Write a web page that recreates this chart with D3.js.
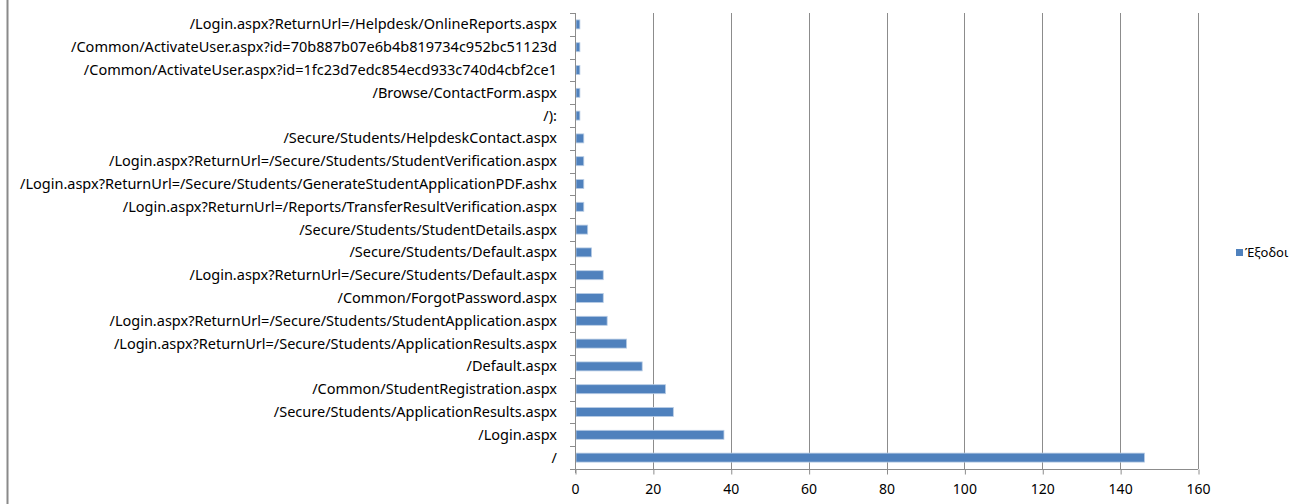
<!DOCTYPE html>
<html>
<head>
<meta charset="utf-8">
<script src="https://cdn.jsdelivr.net/npm/d3@7/dist/d3.min.js"></script>
<style>
  html, body { margin: 0; padding: 0; background: #fff; }
  svg { display: block; }
  text { font-family: "Noto Sans", "Liberation Sans", Arial, sans-serif; }
</style>
</head>
<body>
<svg id="chart" width="1290" height="504"></svg>
<script>
const categories = [
  "/Login.aspx?ReturnUrl=/Helpdesk/OnlineReports.aspx",
  "/Common/ActivateUser.aspx?id=70b887b07e6b4b819734c952bc51123d",
  "/Common/ActivateUser.aspx?id=1fc23d7edc854ecd933c740d4cbf2ce1",
  "/Browse/ContactForm.aspx",
  "/):",
  "/Secure/Students/HelpdeskContact.aspx",
  "/Login.aspx?ReturnUrl=/Secure/Students/StudentVerification.aspx",
  "/Login.aspx?ReturnUrl=/Secure/Students/GenerateStudentApplicationPDF.ashx",
  "/Login.aspx?ReturnUrl=/Reports/TransferResultVerification.aspx",
  "/Secure/Students/StudentDetails.aspx",
  "/Secure/Students/Default.aspx",
  "/Login.aspx?ReturnUrl=/Secure/Students/Default.aspx",
  "/Common/ForgotPassword.aspx",
  "/Login.aspx?ReturnUrl=/Secure/Students/StudentApplication.aspx",
  "/Login.aspx?ReturnUrl=/Secure/Students/ApplicationResults.aspx",
  "/Default.aspx",
  "/Common/StudentRegistration.aspx",
  "/Secure/Students/ApplicationResults.aspx",
  "/Login.aspx",
  "/"
];
const values = [1, 1, 1, 1, 1, 2, 2, 2, 2, 3, 4, 7, 7, 8, 13, 17, 23, 25, 38, 146];
const xTicks = [0, 20, 40, 60, 80, 100, 120, 140, 160];
const seriesName = "Έξοδοι";

const svg = d3.select("#chart");
const mLeft = 575, mRight = 1198, mTop = 13, mBottom = 469;
const gridColor = "#8c8c8c";

// outer frame left border
svg.append("line").attr("x1", 7.5).attr("x2", 7.5).attr("y1", 0).attr("y2", 504)
  .attr("stroke", "#8a8a8a").attr("stroke-width", 2);

const x = d3.scaleLinear().domain([0, 160]).range([mLeft, mRight]);
const yb = d3.scaleBand().domain(categories).range([mTop, mBottom]);

// gridlines
svg.append("g").selectAll("line").data(xTicks.slice(1)).join("line")
  .attr("x1", d => Math.round(x(d)) + 0.5).attr("x2", d => Math.round(x(d)) + 0.5)
  .attr("y1", mTop).attr("y2", mBottom)
  .attr("stroke", gridColor).attr("stroke-width", 1);

// bars
svg.append("g").selectAll("rect").data(categories).join("rect")
  .attr("x", x(0) + 1)
  .attr("y", (d) => yb(d) + yb.bandwidth() / 2 - 4.5)
  .attr("width", (d, i) => Math.max(0, x(values[i]) - x(0)))
  .attr("height", 9)
  .attr("fill", "#4f81bd")
  .attr("stroke", "#b9cde5")
  .attr("stroke-width", 0.8);

// x axis
const xAxis = d3.axisBottom(x).tickValues(xTicks).tickSize(5).tickPadding(10).tickFormat(d3.format("d"));
const gx = svg.append("g").attr("transform", `translate(0,${mBottom + 0.5})`).call(xAxis);
gx.select(".domain").attr("stroke", gridColor).attr("d", `M${mLeft},0H${mRight}`);
gx.selectAll(".tick line").attr("stroke", gridColor).attr("transform", "translate(0.5,0)");
gx.selectAll(".tick text").attr("fill", "#000").attr("font-size", 14)
  .attr("font-family", "Noto Sans, Liberation Sans, Arial, sans-serif");

// y axis: line + ticks at band boundaries
svg.append("line").attr("x1", mLeft + 0.5).attr("x2", mLeft + 0.5).attr("y1", mTop).attr("y2", mBottom + 4)
  .attr("stroke", gridColor);
const boundaries = categories.map(c => yb(c)).concat([mBottom]);
svg.append("g").selectAll("line").data(boundaries).join("line")
  .attr("x1", mLeft - 5).attr("x2", mLeft + 0.5)
  .attr("y1", d => Math.round(d) + 0.5).attr("y2", d => Math.round(d) + 0.5)
  .attr("stroke", gridColor);

// category labels
svg.append("g").selectAll("text").data(categories).join("text")
  .attr("x", 557)
  .attr("y", d => yb(d) + yb.bandwidth() / 2)
  .attr("dy", "0.35em")
  .attr("text-anchor", "end")
  .attr("font-size", 14.5)
  .attr("fill", "#000")
  .text(d => d);

// legend
const lg = svg.append("g").attr("transform", "translate(1236,249)");
lg.append("rect").attr("width", 7).attr("height", 7).attr("fill", "#4f81bd");
lg.append("text").attr("x", 9).attr("y", 3.5).attr("dy", "0.35em")
  .attr("font-size", 13).attr("fill", "#000").text(seriesName);
</script>
</body>
</html>
